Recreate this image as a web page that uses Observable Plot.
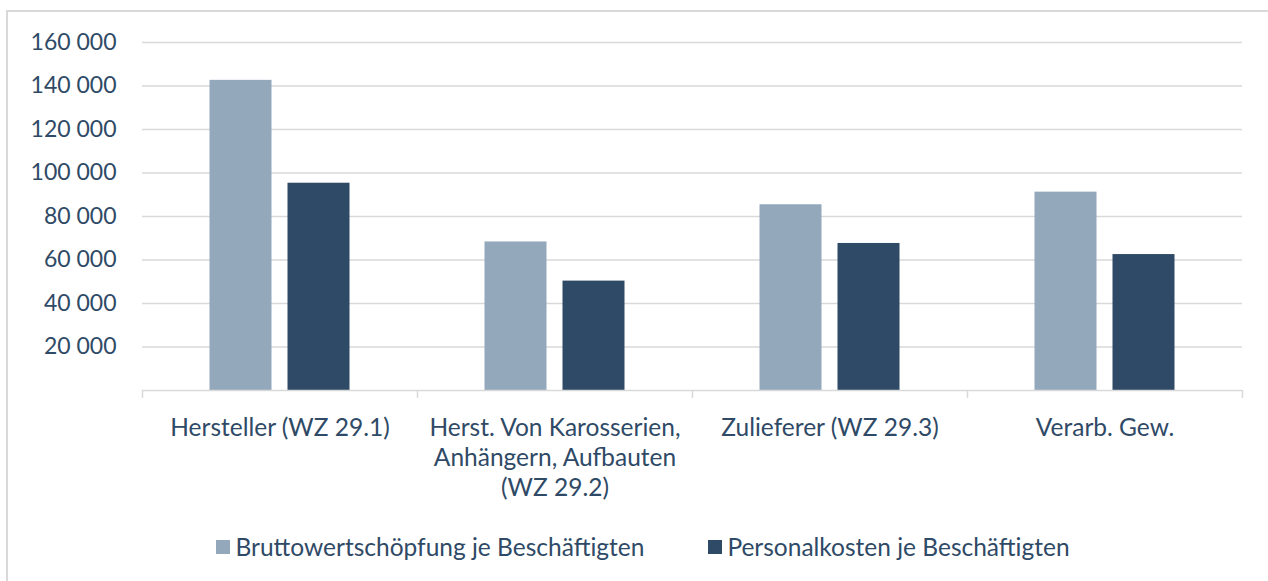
<!DOCTYPE html>
<html>
<head>
<meta charset="utf-8">
<script src="https://cdn.jsdelivr.net/npm/d3@7"></script>
<script src="https://cdn.jsdelivr.net/npm/@observablehq/plot@0.6"></script>
<style>
  html, body { margin: 0; padding: 0; background: #fff; }
  body { width: 1268px; height: 581px; position: relative; overflow: hidden; font-family: Lato, "Open Sans", sans-serif; color: #2f4a66; }
  #frame { position: absolute; left: 6px; top: 10px; width: 1300px; height: 620px; border: 2px solid #d9d9d9; box-sizing: border-box; }
  #chart { position: absolute; left: 0; top: 0; }
  #legend { position: absolute; left: 9px; top: 531px; width: 1268px; display: flex; justify-content: center; gap: 64px; font-size: 24.5px; line-height: 32px; }
  .item { display: flex; align-items: center; gap: 5px; }
  .sw { width: 14px; height: 14px; display: inline-block; }
</style>
</head>
<body>
<div id="frame"></div>
<div id="chart"></div>
<div id="legend"></div>
<script>
const categories = [
  "Hersteller (WZ 29.1)",
  "Herst. Von Karosserien,\nAnhängern, Aufbauten\n(WZ 29.2)",
  "Zulieferer (WZ 29.3)",
  "Verarb. Gew."
];
const seriesNames = ["Bruttowertschöpfung je Beschäftigten", "Personalkosten je Beschäftigten"];
const bruttowertschoepfung = [142600, 68300, 85400, 91200];
const personalkosten = [95300, 50300, 67600, 62500];
const yTicks = [20000, 40000, 60000, 80000, 100000, 120000, 140000, 160000];
const colors = ["#94a8bc", "#2f4a66"];

const data = [];
categories.forEach((c, i) => {
  data.push({category: c, series: seriesNames[0], value: bruttowertschoepfung[i]});
  data.push({category: c, series: seriesNames[1], value: personalkosten[i]});
});

const fmt = v => d3.format(",")(v).replace(/,/g, " ");
const grid = "#d9d9d9";

const chart = Plot.plot({
  width: 1268,
  height: 520,
  marginLeft: 142,
  marginRight: 26,
  marginTop: 42,
  marginBottom: 130,
  style: {fontFamily: "Lato, 'Open Sans', sans-serif", fontSize: "24px", color: "#2f4a66", background: "transparent", overflow: "visible"},
  x: {domain: categories, padding: 0},
  y: {domain: [0, 160000]},
  marks: [
    Plot.gridY(yTicks, {stroke: grid, strokeOpacity: 1, strokeWidth: 1.5}),
    Plot.axisY(yTicks, {tickSize: 0, tickPadding: 26, tickFormat: fmt, fontSize: 23, label: null}),
    Plot.barY(data.filter(d => d.series === seriesNames[0]), {x: "category", y: "value", fill: colors[0], insetLeft: 67.5, insetRight: 145.5}),
    Plot.barY(data.filter(d => d.series === seriesNames[1]), {x: "category", y: "value", fill: colors[1], insetLeft: 145.5, insetRight: 67.5}),
    Plot.ruleY([0], {stroke: grid, strokeWidth: 1.5}),
    Plot.axisX({tickSize: 0, tickPadding: 24, lineHeight: 1.23, fontSize: 24.5, label: null}),
    Plot.axisX({tickSize: 8, dx: -137.5, tickFormat: () => "", stroke: grid, strokeWidth: 1.5, label: null}),
    Plot.axisX([categories[categories.length - 1]], {tickSize: 8, dx: 137.5, tickFormat: () => "", stroke: grid, strokeWidth: 1.5, label: null})
  ]
});
document.getElementById("chart").appendChild(chart);

const legend = document.getElementById("legend");
seriesNames.forEach((s, i) => {
  const it = document.createElement("div");
  it.className = "item";
  const sw = document.createElement("span");
  sw.className = "sw";
  sw.style.background = colors[i];
  const t = document.createElement("span");
  t.textContent = s;
  it.appendChild(sw);
  it.appendChild(t);
  legend.appendChild(it);
});
</script>
</body>
</html>
